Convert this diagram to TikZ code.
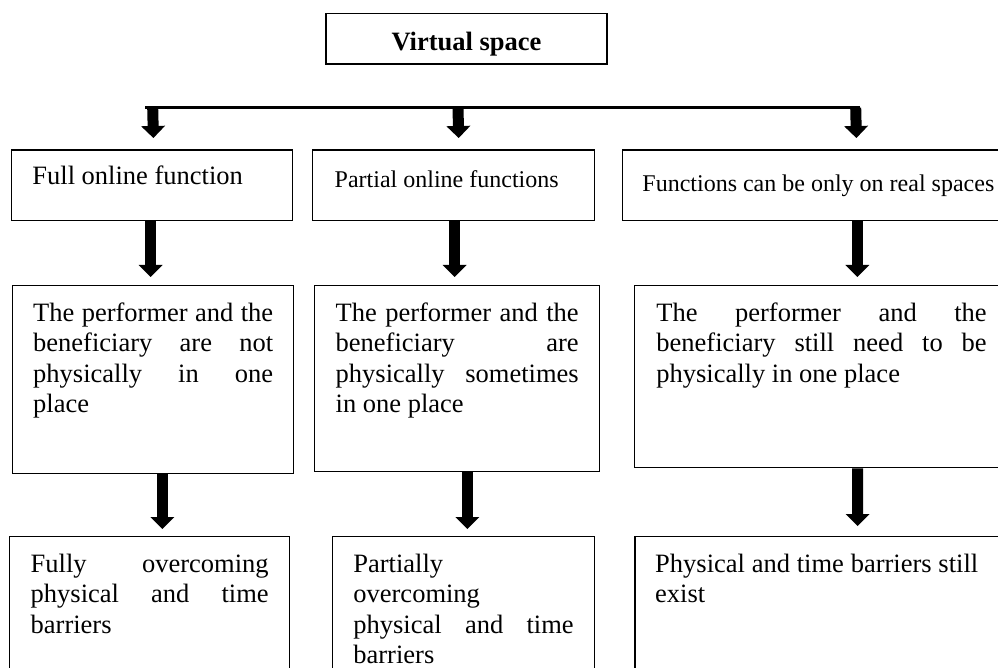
\documentclass[tikz,border=0pt]{standalone}
\usepackage{fontspec}
\setmainfont{Liberation Serif}
\usepackage{tikz}
\usetikzlibrary{arrows.meta}
\hyphenpenalty=10000
\tolerance=10000
\hbadness=10000
\newcommand{\cellfont}{\fontsize{26.5}{30.5}\selectfont}
\newcommand{\smallcellfont}{\fontsize{24}{28}\selectfont}

\begin{document}
\begin{tikzpicture}[x=1pt, y=-1pt,
    cell/.style={draw, line width=1.4pt, anchor=north west, inner xsep=21pt, inner ysep=0pt,
        align=justify, font=\cellfont, text height=35.7pt},
    blockarrow/.style={line width=11pt, -{Triangle[length=12pt, width=24pt, line width=0pt]}}]
    \useasboundingbox (0,0) rectangle (998,668);
    \clip (0,0) rectangle (998,668);

    \node[draw, line width=1.6pt, anchor=north, minimum width=281pt, inner sep=0pt,
        text height=36.6pt, text depth=13.7pt, font=\cellfont\bfseries] (virt) at (466.5,12.7) {Virtual space};

    \coordinate (barL) at (145,107.7);
    \coordinate (barR) at (860,107.7);
    \coordinate (ta) at (152.7,107.7);
    \coordinate (tb) at (458,107.7);
    \coordinate (tc) at (855.7,107.7);
    \draw[line width=2.5pt] (barL) -- (barR);

    \node[cell, text width=239.6pt, inner xsep=20.7pt, text height=35pt, text depth=35.7pt]
        (a1) at (11,149.3) {Full online function};
    \node[cell, font=\smallcellfont, text width=238pt, inner xsep=22pt, text height=37.7pt, text depth=33pt]
        (b1) at (312,149.3) {Partial online functions};
    \node[cell, font=\smallcellfont, text width=360pt, inner xsep=20pt, text height=41.4pt, text depth=29.3pt]
        (c1) at (621.7,149.3) {Functions can be only on real spaces};

    \node[cell, text width=240pt, inner xsep=20.5pt, text depth=152.3pt] (a2) at (12,285)
        {The performer and the\linebreak beneficiary are not\linebreak physically in one\linebreak place};
    \node[cell, text width=243pt, text depth=150.3pt] (b2) at (314,285)
        {The performer and the\linebreak beneficiary are\linebreak physically sometimes\linebreak in one place};
    \node[cell, text width=330.3pt, inner xsep=21.7pt, text depth=146.3pt] (c2) at (634,285)
        {The performer and the\linebreak beneficiary still need to be\linebreak physically in one place};

    \node[cell, text width=238pt, text depth=200pt] (a3) at (9,536)
        {Fully overcoming\linebreak physical and time\linebreak barriers};
    \node[cell, text width=220.3pt, text depth=200pt] (b3) at (331.7,536)
        {Partially\linebreak overcoming\linebreak physical and time\linebreak barriers};
    \node[cell, text width=323pt, inner xsep=20.2pt, text depth=200pt] (c3) at (634.3,536)
        {Physical and time barriers still\linebreak exist};

    \draw[blockarrow] (ta) -- ([xshift=1.2pt, yshift=11.3pt]a1.north);
    \draw[blockarrow] (tb) -- ([xshift=5pt, yshift=11.3pt]b1.north);
    \draw[blockarrow] (tc) -- ([xshift=34pt, yshift=11.3pt]c1.north);

    \draw[blockarrow] ([xshift=-1.5pt]a1.south) -- ([xshift=-2.5pt, yshift=8pt]a2.north);
    \draw[blockarrow] ([xshift=1pt]b1.south) -- ([xshift=-2.5pt, yshift=8pt]b2.north);
    \draw[blockarrow] ([xshift=35pt]c1.south) -- ([xshift=35.85pt, yshift=8pt]c2.north);

    \draw[blockarrow] ([xshift=9.2pt]a2.south) -- ([xshift=12.7pt, yshift=7pt]a3.north);
    \draw[blockarrow] ([xshift=10.2pt]b2.south) -- ([xshift=3.85pt, yshift=7pt]b3.north);
    \draw[blockarrow] ([xshift=36.15pt]c2.south) -- ([xshift=41pt, yshift=10pt]c3.north);
\end{tikzpicture}
\end{document}
